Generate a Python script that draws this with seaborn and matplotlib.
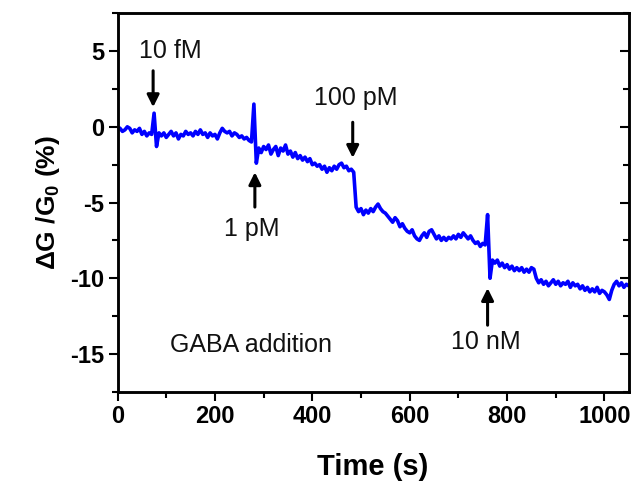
import numpy as np
import pandas as pd
import matplotlib
matplotlib.use("Agg")
import matplotlib.pyplot as plt
import seaborn as sns
from matplotlib.ticker import MultipleLocator

# ---- data ----
time_s = np.arange(0, 1055, 5)
dG = [
    0.0, -0.1, -0.3, -0.2, 0.0, -0.1, -0.4, -0.2, -0.3, -0.1,
    -0.5, -0.3, -0.6, -0.4, -0.5, 0.9, -1.3, -0.4, -0.6, -0.4,
    -0.7, -0.5, -0.3, -0.6, -0.4, -0.8, -0.5, -0.6, -0.3, -0.5,
    -0.4, -0.6, -0.3, -0.5, -0.2, -0.5, -0.4, -0.7, -0.4, -0.6,
    -0.5, -0.8, -0.4, -0.1, -0.3, -0.4, -0.3, -0.6, -0.4, -0.5,
    -0.7, -0.6, -0.8, -0.7, -0.9, -1.0, 1.5, -2.4, -1.4, -1.7,
    -1.3, -1.5, -1.2, -1.8, -1.5, -1.3, -1.9, -1.4, -1.6, -1.2,
    -1.8, -1.6, -2.0, -1.7, -2.1, -1.9, -2.2, -2.0, -2.3, -2.1,
    -2.5, -2.4, -2.6, -2.5, -2.8, -2.6, -3.0, -2.7, -2.9, -2.6,
    -2.8, -2.5, -2.4, -2.7, -2.6, -2.9, -2.8, -3.0, -5.3, -5.6,
    -5.4, -5.8, -5.5, -5.7, -5.4, -5.6, -5.3, -5.1, -5.4, -5.6,
    -5.7, -5.9, -6.1, -6.3, -6.0, -6.2, -6.6, -6.4, -6.7, -6.9,
    -7.0, -6.8, -7.2, -7.4, -7.5, -7.2, -7.0, -7.3, -6.9, -6.8,
    -7.1, -7.4, -7.2, -7.5, -7.3, -7.5, -7.3, -7.4, -7.2, -7.4,
    -7.1, -7.3, -7.0, -7.2, -7.4, -7.2, -7.5, -7.7, -7.6, -7.9,
    -7.7, -7.8, -5.8, -10.0, -8.8, -9.0, -8.8, -9.2, -9.0, -9.3,
    -9.1, -9.4, -9.2, -9.5, -9.3, -9.5, -9.3, -9.6, -9.4, -9.6,
    -9.3, -9.4, -10.0, -10.3, -10.1, -10.4, -10.2, -10.5, -10.3, -10.1,
    -10.4, -10.2, -10.5, -10.3, -10.4, -10.2, -10.6, -10.3, -10.5, -10.4,
    -10.7, -10.5, -10.8, -10.6, -10.9, -10.7, -10.9, -10.6, -11.0, -10.8,
    -10.9, -11.1, -11.4, -10.8, -10.4, -10.2, -10.5, -10.3, -10.6, -10.4,
    -10.5,
]
df = pd.DataFrame({"Time (s)": time_s[:len(dG)], "dG": dG})

# annotations
ann_labels = ["10 fM", "1 pM", "100 pM", "10 nM"]
ann_x = [73, 282, 483, 760]
ann_text_x = [108, 276, 490, 756]
ann_text_y = [5.0, -6.75, 1.9, -14.2]
ann_tail_y = [3.7, -5.3, 0.3, -13.1]
ann_head_y = [1.3, -3.0, -2.05, -10.65]

# ---- style ----
sns.set_style("ticks")
plt.rcParams["font.family"] = ["Liberation Sans", "DejaVu Sans"]
plt.rcParams["axes.unicode_minus"] = False
plt.rcParams["mathtext.fontset"] = "custom"
plt.rcParams["mathtext.bf"] = "Liberation Sans:bold"
plt.rcParams["mathtext.rm"] = "Liberation Sans:bold"
plt.rcParams["mathtext.default"] = "bf"
for k in ["text.color", "axes.labelcolor", "xtick.color", "ytick.color",
          "xtick.labelcolor", "ytick.labelcolor", "axes.edgecolor"]:
    plt.rcParams[k] = "black"

fig = plt.figure(figsize=(6.39, 4.91), dpi=100)
ax = fig.add_axes([0.184, 0.202, 0.800, 0.771])

sns.lineplot(data=df, x="Time (s)", y="dG", ax=ax, color="#0000FF", lw=2.6)

ax.set_xlim(0, 1050)
ax.set_ylim(-17.5, 7.5)
ax.xaxis.set_major_locator(MultipleLocator(200))
ax.xaxis.set_minor_locator(MultipleLocator(100))
ax.yaxis.set_major_locator(MultipleLocator(5))
ax.yaxis.set_minor_locator(MultipleLocator(2.5))

for s in ax.spines.values():
    s.set_visible(True)
    s.set_linewidth(1.8)
    s.set_color("black")

ax.tick_params(which="major", direction="out", length=6.5, width=1.5,
               labelsize=17, color="black", labelcolor="black", pad=3)
ax.tick_params(which="minor", direction="out", length=4.3, width=1.5, color="black")
ax.tick_params(top=False, right=False, which="both")
for lab in ax.get_xticklabels() + ax.get_yticklabels():
    lab.set_fontweight("bold")

ax2 = ax.twinx()
ax2.set_ylim(ax.get_ylim())
ax2.yaxis.set_major_locator(MultipleLocator(5))
ax2.yaxis.set_minor_locator(MultipleLocator(2.5))
ax2.tick_params(which="major", direction="in", length=6.5, width=1.5,
                labelright=False, color="black")
ax2.tick_params(which="minor", direction="in", length=4.3, width=1.5,
                labelright=False, color="black")
for s in ax2.spines.values():
    s.set_linewidth(1.8)
    s.set_color("black")

ax.set_xlabel("Time (s)", fontsize=21, fontweight="bold", labelpad=18, color="black")
ax.set_ylabel("ΔG /G$_0$ (%)", fontsize=19, fontweight="bold", labelpad=6, color="black")

for lab, xa, xt, yt, y0, y1 in zip(ann_labels, ann_x, ann_text_x, ann_text_y,
                                  ann_tail_y, ann_head_y):
    ax.text(xt, yt, lab, fontsize=18, ha="center", va="center", color="#111111")
    ax.annotate("", xy=(xa, y1), xytext=(xa, y0),
                arrowprops=dict(arrowstyle="-|>", lw=2.2, color="black",
                                mutation_scale=18, shrinkA=0, shrinkB=0))

ax.text(274, -14.4, "GABA addition", fontsize=18, ha="center", va="center",
        color="#111111")

fig.savefig("out.png", dpi=100)
